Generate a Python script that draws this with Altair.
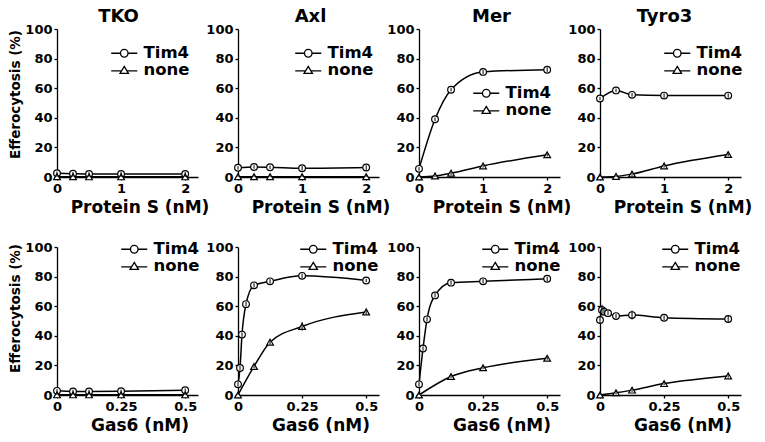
import altair as alt
import pandas as pd

FONT = "DejaVu Sans"

# ---------------- data ----------------
# Protein S row (nM)
ps_x = [0, 0.25, 0.5, 1, 2]
tko_ps_tim4 = [2.5, 2.2, 2.0, 2.0, 2.0]
tko_ps_none = [0.2, 0.2, 0.1, 0.1, 0.1]
axl_ps_tim4 = [6.2, 6.8, 6.6, 5.9, 6.4]
axl_ps_none = [0.2, 0.2, 0.2, 0.2, 0.2]
mer_ps_tim4 = [5.5, 39.0, 59.0, 71.0, 72.5]
mer_ps_none = [0.0, 0.7, 2.6, 7.5, 15.0]
tyro3_ps_tim4 = [53.0, 58.5, 55.5, 55.0, 55.0]
tyro3_ps_none = [0.0, 0.4, 2.0, 7.5, 15.2]
ps_err = [1.2, 1.2, 1.2, 1.5, 1.5]

# Gas6 row (nM)
gas6_x5 = [0, 0.0625, 0.125, 0.25, 0.5]
gas6_x8 = [0, 0.0078, 0.0156, 0.03125, 0.0625, 0.125, 0.25, 0.5]
gas6_x7 = [0, 0.0156, 0.03125, 0.0625, 0.125, 0.25, 0.5]
gas6_x4 = [0, 0.125, 0.25, 0.5]
tko_g6_tim4 = [2.8, 2.4, 2.4, 2.5, 3.2]
tko_g6_none = [0.1, 0.1, 0.1, 0.1, 0.1]
axl_g6_tim4 = [7.2, 18.2, 40.8, 61.4, 74.1, 76.8, 80.5, 77.4]
axl_g6_tim4_err = [1.5, 1.5, 1.5, 1.5, 1.5, 1.5, 1.5, 1.2]
axl_g6_none = [0.0, 19.3, 35.7, 46.3, 56.1]
axl_g6_none_err = [0.5, 1.2, 1.5, 2.8, 1.5]
mer_g6_tim4 = [7.2, 31.4, 51.1, 67.3, 75.9, 76.8, 78.5]
mer_g6_none = [0.0, 12.5, 18.4, 24.8]
tyro3_g6_tim4 = [50.7, 57.5, 56.3, 55.3, 53.3, 54.0, 52.2, 51.3]
tyro3_g6_tim4_err = [2.0, 3.5, 2.0, 1.5, 1.5, 3.0, 1.5, 2.5]
tyro3_g6_none = [0.0, 1.5, 3.3, 7.7, 12.9]

series_names = ["Tim4", "none"]

# legend symbols: line with open marker (custom paths)
CIRCLE_PATH = ("M-1.86,0H-0.54M0.54,0H1.86"
               "M-0.54,0A0.54,0.54,0,1,1,0.54,0A0.54,0.54,0,1,1,-0.54,0Z")
TRI_PATH = ("M-1.86,0.1H-0.36M0.36,0.1H1.86"
            "M0,-0.55L0.6,0.45L-0.6,0.45Z")

W = 141
H = 148


def frame(tx, ty, terr, nx, ny, nerr):
    rows = []
    for x, y, e in zip(tx, ty, terr):
        rows.append({"x": x, "y": y, "lo": y - e, "hi": y + e, "series": "Tim4"})
    for x, y, e in zip(nx, ny, nerr):
        rows.append({"x": x, "y": y, "lo": max(y - e, 0), "hi": y + e, "series": "none"})
    return pd.DataFrame(rows)


def panel(df, title, tdx, xmax, xvals, xtitle, show_ytitle, ytitle_y, lx, ly):
    xaxis = alt.Axis(values=xvals, labelExpr="format(datum.value, '~g')",
                     labelFontSize=13, labelPadding=2, tickSize=3,
                     labelFlush=False, labelOverlap=False,
                     title=xtitle, titleFontSize=17, titlePadding=4, titleX=W / 2 + 12)
    yaxis = alt.Axis(values=[0, 20, 40, 60, 80, 100], labelFontSize=13,
                     labelPadding=2, tickSize=3, labelFlush=False,
                     title="Efferocytosis (%)" if show_ytitle else None,
                     titleFontSize=13.5, titlePadding=2, titleY=ytitle_y)
    xs = alt.Scale(domain=[0, xmax], nice=False, zero=False)
    ys = alt.Scale(domain=[0, 100], nice=False)
    base = alt.Chart(df).encode(
        x=alt.X("x:Q", scale=xs, axis=xaxis),
        y=alt.Y("y:Q", scale=ys, axis=yaxis),
    )
    line = base.mark_line(color="black", strokeWidth=1.5, interpolate="monotone").encode(
        detail="series:N")
    pts = base.mark_point(filled=True, fill="white", stroke="black", strokeWidth=1.2,
                          size=45, opacity=1).encode(
        shape=alt.condition(alt.datum.series == "Tim4", alt.value("circle"),
                            alt.value("triangle-up")))
    errs = base.mark_rule(color="black", strokeWidth=1).encode(
        y=alt.Y("lo:Q", scale=ys, axis=yaxis), y2="hi:Q")
    leg = base.transform_filter("false").mark_point(
        filled=False, color="black", strokeWidth=1.3, opacity=1).encode(
        shape=alt.Shape("series:N",
                        scale=alt.Scale(domain=series_names, range=[CIRCLE_PATH, TRI_PATH]),
                        legend=alt.Legend(orient="none", legendX=lx, legendY=ly, title=None,
                                          labelFont=FONT, labelFontSize=16.5,
                                          labelFontWeight="bold", labelColor="black",
                                          symbolSize=196, symbolStrokeWidth=1.3,
                                          symbolStrokeColor="black",
                                          labelOffset=11, rowPadding=0, padding=0)))
    ch = alt.layer(line, pts, errs, leg).properties(width=W, height=H)
    if title:
        ch = ch.properties(title=alt.TitleParams(text=title, fontSize=18, font=FONT,
                                                 fontWeight="bold", color="black",
                                                 anchor="middle", offset=-3, dx=tdx))
    return ch


ps_t = "Protein S (nM)"
g6_t = "Gas6 (nM)"
e5 = [1.2] * 5
panels = [
    panel(frame(ps_x, tko_ps_tim4, ps_err, ps_x, tko_ps_none, e5), "TKO", -9, 2.2, [0, 1, 2], ps_t, True, 65, 59, 16),
    panel(frame(ps_x, axl_ps_tim4, ps_err, ps_x, axl_ps_none, e5), "Axl", 2, 2.2, [0, 1, 2], ps_t, False, 65, 62, 16),
    panel(frame(ps_x, mer_ps_tim4, ps_err, ps_x, mer_ps_none, e5), "Mer", 2, 2.2, [0, 1, 2], ps_t, False, 65, 59, 56),
    panel(frame(ps_x, tyro3_ps_tim4, ps_err, ps_x, tyro3_ps_none, e5), "Tyro3", -6, 2.2, [0, 1, 2], ps_t, False, 65, 69, 16),
    panel(frame(gas6_x5, tko_g6_tim4, e5, gas6_x5, tko_g6_none, e5), None, 0, 0.55, [0, 0.25, 0.5], g6_t, True, 61, 69, -6),
    panel(frame(gas6_x8, axl_g6_tim4, axl_g6_tim4_err, gas6_x5, axl_g6_none, axl_g6_none_err), None, 0, 0.55, [0, 0.25, 0.5], g6_t, False, 61, 67, -6),
    panel(frame(gas6_x7, mer_g6_tim4, [1.5] * 7, gas6_x4, mer_g6_none, [1.0] * 4), None, 0, 0.55, [0, 0.25, 0.5], g6_t, False, 61, 68, -6),
    panel(frame(gas6_x8, tyro3_g6_tim4, tyro3_g6_tim4_err, gas6_x5, tyro3_g6_none, e5), None, 0, 0.55, [0, 0.25, 0.5], g6_t, False, 61, 67, -6),
]

chart = alt.concat(*panels, columns=4, spacing={"row": 70, "column": 40}, bounds="flush").resolve_scale(
    x="independent", y="independent", shape="independent").resolve_legend(
    shape="independent").properties(padding=0).configure_view(stroke=None).configure_axis(
    grid=False, domainColor="black", tickColor="black", labelColor="black", titleColor="black",
    labelFont=FONT, titleFont=FONT, labelFontWeight="bold", titleFontWeight="bold",
    domainWidth=1.3, tickWidth=1.3)

chart.save("out.html", embed_options={"renderer": "svg", "actions": False})
